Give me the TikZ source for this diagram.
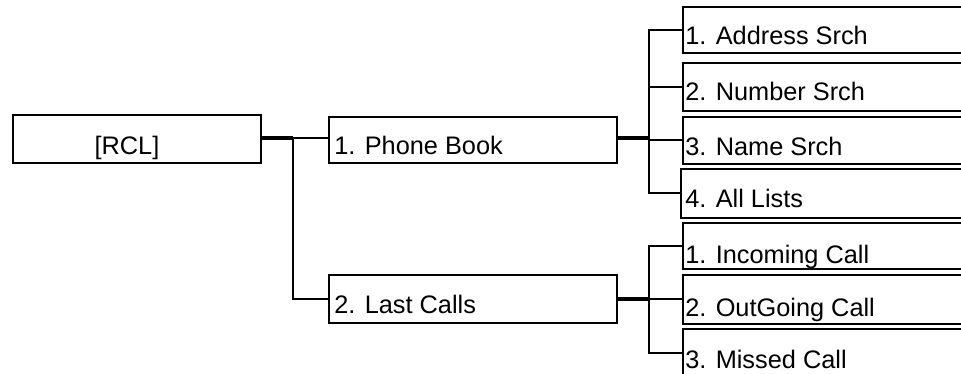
\documentclass[tikz,border=0pt]{standalone}
\usepackage{fontspec}
\setmainfont{Liberation Sans}
\begin{document}
\begin{tikzpicture}[x=0.75pt,y=-0.75pt,
 box/.style={draw=black,line width=1.4pt,inner sep=0pt,anchor=north west},
 lbl/.style={anchor=base west,inner sep=0pt,font=\fontsize{19}{22}\selectfont},
 wire/.style={line width=1.4pt},
 stem/.style={line width=2.4pt}]
\useasboundingbox (0,0) rectangle (961,374);
\clip (0,0) rectangle (961,374);
% left column
\node[box,minimum width=186pt,minimum height=36pt] (rcl) at (12,114) {};
\node[lbl,anchor=base] (rclt) at (127,155) {[RCL]};
% middle column
\node[box,minimum width=216pt,minimum height=34.5pt] (pb) at (328,116) {};
\node[lbl] (pbt) at (334,155) {1. Phone Book};
\node[box,minimum width=216pt,minimum height=36pt] (lc) at (328,274) {};
\node[lbl] (lct) at (334,313) {2. Last Calls};
% right column, phone book
\node[box,minimum width=223.5pt,minimum height=34.5pt] (a1) at (682,6) {};
\node[lbl] (a1t) at (685,45) {1. Address Srch};
\node[box,minimum width=223.5pt,minimum height=36pt] (a2) at (682,62) {};
\node[lbl] (a2t) at (685,101) {2. Number Srch};
\node[box,minimum width=223.5pt,minimum height=35.25pt] (a3) at (682,116) {};
\node[lbl] (a3t) at (685,156) {3. Name Srch};
\node[box,minimum width=225pt,minimum height=36.75pt] (a4) at (680,168) {};
\node[lbl] (a4t) at (685,208) {4. All Lists};
% right column, last calls
\node[box,minimum width=223.5pt,minimum height=34.5pt] (b1) at (682,222) {};
\begin{scope}
\clip (b1.north west) rectangle (b1.south east);
\node[lbl] (b1t) at (685,263) {1. Incoming Call};
\end{scope}
\node[box,minimum width=223.5pt,minimum height=36.75pt] (b2) at (682,274) {};
\begin{scope}
\clip (b2.north west) rectangle (b2.south east);
\node[lbl] (b2t) at (685,316) {2. OutGoing Call};
\end{scope}
\node[box,minimum width=223.5pt,minimum height=36pt] (b3) at (682,328) {};
\node[lbl] (b3t) at (685,368) {3. Missed Call};
% junctions
\coordinate (j1) at (293,138);
\coordinate (j2) at (649,138);
\coordinate (j3) at (649,299);
% connectors
\draw[stem] (j1 -| rcl.east) -- (j1);
\draw[wire] (j1) -- (j1 -| pb.west);
\draw[wire] (j1) |- (lc.west);
\draw[stem] (j2 -| pb.east) -- (j2);
\draw[wire] (j2) |- (a1.west);
\draw[wire] (j2) |- (a2.west);
\draw[wire] (j2) |- (a3.west);
\draw[wire] (j2) |- (a4.west);
\draw[stem] (j3 -| lc.east) -- (j3);
\draw[wire] (j3) |- (b1.west);
\draw[wire] (j3) -- (j3 -| b2.west);
\draw[wire] (j3) |- (b3.west);
\end{tikzpicture}
\end{document}
